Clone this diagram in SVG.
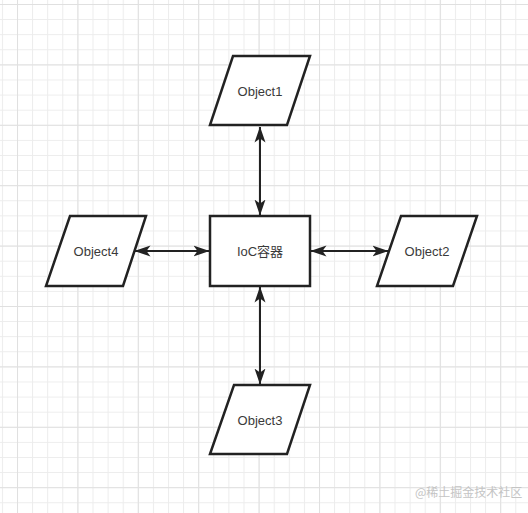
<svg xmlns="http://www.w3.org/2000/svg" width="528" height="513" viewBox="0 0 528 513">
  <defs>
    <pattern id="minor" x="17" y="4" width="15.1" height="15.1" patternUnits="userSpaceOnUse">
      <path d="M0,0.5 H15.1 M0.5,0 V15.1" fill="none" stroke="#ececec" stroke-width="1"/>
    </pattern>
    <pattern id="major" x="17" y="4" width="60.4" height="60.4" patternUnits="userSpaceOnUse">
      <path d="M0,0.5 H60.4 M0.5,0 V60.4" fill="none" stroke="#e0e0e0" stroke-width="1"/>
    </pattern>
    <marker id="arr" viewBox="0 0 16 12" refX="15.5" refY="6" markerWidth="16" markerHeight="12" markerUnits="userSpaceOnUse" orient="auto-start-reverse">
      <path d="M0,0.5 L16,6 L0,11.5 L4,6 Z" fill="#222"/>
    </marker>
    <style>
      .shape { fill: #ffffff; stroke: #222222; stroke-width: 2.5; stroke-linejoin: miter; }
      .label { font-family: "Liberation Sans", "Noto Sans CJK SC", Arial, sans-serif; font-size: 13px; fill: #3a3a3a; text-anchor: middle; dominant-baseline: central; }
      .conn { stroke: #222222; stroke-width: 2; fill: none; marker-start: url(#arr); marker-end: url(#arr); }
      .wm { font-family: "Noto Sans CJK SC", "Liberation Sans", sans-serif; font-size: 12px; fill: #c4c4c4; }
    </style>
  </defs>
  <rect width="528" height="513" fill="#ffffff"/>
  <rect width="528" height="513" fill="url(#minor)"/>
  <rect width="528" height="513" fill="url(#major)"/>

  <g id="connectors">
    <line class="conn" x1="260" y1="127" x2="260" y2="215"/>
    <line class="conn" x1="260" y1="287" x2="260" y2="384"/>
    <line class="conn" x1="135" y1="251" x2="209" y2="251"/>
    <line class="conn" x1="311" y1="251" x2="388" y2="251"/>
  </g>

  <g id="ioc">
    <rect class="shape" x="210" y="216" width="100" height="70"/>
    <text class="label" x="260" y="251">IoC容器</text>
  </g>
  <g id="object1">
    <polygon class="shape" points="233,56 310,56 287,125 210,125"/>
    <text class="label" x="260" y="91">Object1</text>
  </g>
  <g id="object2">
    <polygon class="shape" points="401,216 477,216 453,286 377,286"/>
    <text class="label" x="427" y="251">Object2</text>
  </g>
  <g id="object3">
    <polygon class="shape" points="234,385 310,385 287,454 210,454"/>
    <text class="label" x="260" y="420">Object3</text>
  </g>
  <g id="object4">
    <polygon class="shape" points="70,216 146,216 123,286 46,286"/>
    <text class="label" x="96" y="251">Object4</text>
  </g>

  <text class="wm" x="415" y="497">@稀土掘金技术社区</text>
</svg>
